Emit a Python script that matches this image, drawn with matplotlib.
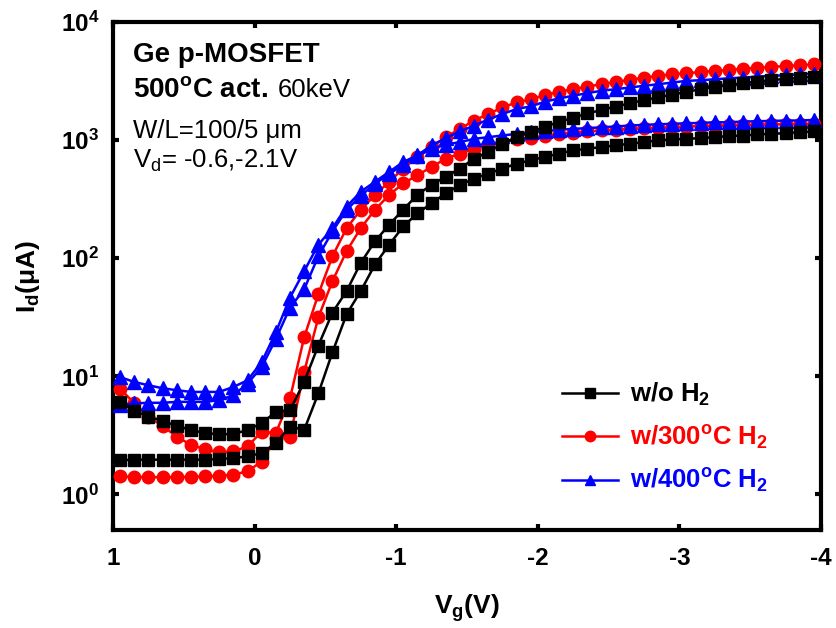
import matplotlib
matplotlib.use("Agg")
import matplotlib.pyplot as plt
from matplotlib.lines import Line2D

plt.rcParams["font.family"] = "Liberation Sans"
plt.rcParams["mathtext.fontset"] = "custom"
plt.rcParams["mathtext.rm"] = "Liberation Sans"
plt.rcParams["mathtext.bf"] = "Liberation Sans:bold"
plt.rcParams["mathtext.it"] = "Liberation Sans:italic"
plt.rcParams["axes.unicode_minus"] = False

# gate voltage sweep (V)
vg = [0.95, 0.85, 0.75, 0.65, 0.55, 0.45, 0.35, 0.25, 0.15, 0.05,
      -0.05, -0.15, -0.25, -0.35, -0.45, -0.55, -0.65, -0.75, -0.85, -0.95,
      -1.05, -1.15, -1.25, -1.35, -1.45, -1.55, -1.65, -1.75, -1.85, -1.95,
      -2.05, -2.15, -2.25, -2.35, -2.45, -2.55, -2.65, -2.75, -2.85, -2.95,
      -3.05, -3.15, -3.25, -3.35, -3.45, -3.55, -3.65, -3.75, -3.85, -3.95]

# drain current (uA), Vd = -0.6 V and Vd = -2.1 V for each anneal condition
id_noh2_lo = [1.95, 1.97, 1.97, 1.97, 1.97, 1.97, 1.97, 1.99, 2.03, 2.10,
              2.24, 2.72, 3.75, 3.52, 7.16, 16.0, 33.6, 52.8, 88.5, 130,
              186, 240, 292, 354, 416, 473, 521, 574, 632, 675,
              720, 767, 819, 846, 873, 902, 931, 962, 993, 1013,
              1025, 1040, 1059, 1081, 1094, 1117, 1130, 1146, 1167, 1183]
id_noh2_hi = [6.08, 5.11, 4.55, 4.21, 3.80, 3.52, 3.30, 3.24, 3.24, 3.52,
              4.00, 5.01, 5.18, 8.96, 18.2, 34.7, 52.8, 91.4, 139, 192,
              258, 345, 419, 489, 574, 697, 793, 931, 1059, 1167,
              1300, 1420, 1550, 1680, 1800, 1920, 2050, 2180, 2300, 2430,
              2560, 2700, 2820, 2930, 3030, 3130, 3220, 3300, 3370, 3440]
id_h300_lo = [1.42, 1.41, 1.40, 1.40, 1.40, 1.41, 1.42, 1.44, 1.47, 1.57,
              1.90, 3.01, 3.09, 10.9, 31.5, 64.1, 115, 180, 257, 343,
              430, 505, 593, 697, 767, 846, 902, 962, 1025, 1040,
              1081, 1130, 1151, 1183, 1207, 1222, 1246, 1262, 1269, 1285,
              1303, 1315, 1325, 1335, 1345, 1352, 1358, 1364, 1370, 1375]
id_h300_hi = [7.88, 5.90, 4.55, 3.80, 3.09, 2.63, 2.42, 2.27, 2.31, 2.55,
              3.40, 3.30, 6.50, 21.4, 49.5, 104, 180, 257, 343, 444,
              574, 720, 873, 1059, 1246, 1465, 1663, 1894, 2085, 2224,
              2404, 2567, 2700, 2843, 2974, 3113, 3236, 3383, 3499, 3608,
              3679, 3779, 3855, 3928, 4029, 4084, 4162, 4244, 4293, 4377]
id_h400_lo = [5.70, 5.90, 5.97, 5.97, 6.08, 6.08, 6.08, 6.28, 6.92, 8.68,
              12.0, 20.7, 38.2, 54.6, 104, 169, 257, 338, 427, 518,
              617, 735, 840, 916, 962, 1025, 1059, 1094, 1130, 1167,
              1190, 1222, 1246, 1262, 1285, 1303, 1329, 1345, 1363, 1371,
              1390, 1397, 1416, 1416, 1436, 1445, 1453, 1465, 1465, 1482]
id_h400_hi = [9.86, 8.96, 8.40, 7.93, 7.63, 7.38, 7.38, 7.38, 8.13, 9.25,
              13.2, 23.6, 46.4, 77.8, 130, 180, 274, 366, 444, 538,
              653, 744, 902, 1040, 1183, 1329, 1493, 1663, 1833, 1930,
              2115, 2254, 2375, 2500, 2617, 2700, 2789, 2883, 2974, 3071,
              3175, 3213, 3273, 3340, 3383, 3451, 3499, 3540, 3608, 3656]

labels = ["w/o H$_\\mathbf{2}$",
          "w/300$^\\mathbf{o}$C H$_\\mathbf{2}$",
          "w/400$^\\mathbf{o}$C H$_\\mathbf{2}$"]
colors = ["black", "red", "blue"]
markers = ["s", "o", "^"]
msizes = [8.5, 9, 10]
curves = [(id_noh2_lo, id_noh2_hi), (id_h300_lo, id_h300_hi), (id_h400_lo, id_h400_hi)]
zorders = [5, 3, 4]

fig = plt.figure(figsize=(8.36, 6.28), dpi=100)
ax = fig.add_axes([113 / 836, 1 - 530 / 628, 708 / 836, 508 / 628])

for (lo, hi), c, m, ms, z in zip(curves, colors, markers, msizes, zorders):
    for ids in (lo, hi):
        ax.plot(vg, ids, color=c, marker=m, markersize=ms, markeredgecolor=c,
                linewidth=1.8, zorder=z, clip_on=False)

ax.set_yscale("log")
ax.set_xlim(1, -4)
ax.set_ylim(0.5, 1e4)

ax.set_xticks([1, 0, -1, -2, -3, -4])
ax.set_xticklabels(["1", "0", "-1", "-2", "-3", "-4"], fontweight="bold")
ax.set_yticks([1, 10, 100, 1000, 10000])
ax.set_yticklabels(["$\\mathbf{10^{%d}}$" % k for k in range(5)])
ax.minorticks_off()
ax.tick_params(direction="in", length=4, width=3, labelsize=17.5, pad=12,
               top=True, right=True)
ax.tick_params(axis="y", pad=10)
for sp in ax.spines.values():
    sp.set_linewidth(3)

ax.set_xlabel("V$_\\mathbf{g}$(V)", fontsize=19, fontweight="bold")
ax.set_ylabel("I$_\\mathbf{d}$(\u03bcA)", fontsize=19, fontweight="bold")
ax.xaxis.set_label_coords(0.5, -0.122)
ax.yaxis.set_label_coords(-0.1, 0.5)

ax.text(0.028, 0.921, "Ge p-MOSFET", transform=ax.transAxes, fontsize=20,
        fontweight="bold", va="baseline")
ax.text(0.028, 0.852, "500$^\\mathbf{o}$C act.", transform=ax.transAxes,
        fontsize=20, fontweight="bold", va="baseline")
ax.text(0.232, 0.852, "60keV", transform=ax.transAxes, fontsize=18.5,
        va="baseline")
ax.text(0.028, 0.772, "W/L=100/5 \u03bcm", transform=ax.transAxes, fontsize=18.5,
        va="baseline")
ax.text(0.028, 0.713, "V$_\\mathrm{d}$= -0.6,-2.1V", transform=ax.transAxes,
        fontsize=18.5, va="baseline")

handles = [Line2D([], [], color=c, marker=m, markersize=7.5, linewidth=1.8)
           for c, m in zip(colors, markers)]
leg = ax.legend(handles, labels, loc="center left", bbox_to_anchor=(0.634, 0.181),
                frameon=False, borderpad=0, borderaxespad=0, handlelength=2.2,
                handletextpad=0.45, labelspacing=0.6,
                prop={"weight": "bold", "size": 18.5})
for txt, c in zip(leg.get_texts(), colors):
    txt.set_color(c)

fig.savefig("out.png", dpi=100)
